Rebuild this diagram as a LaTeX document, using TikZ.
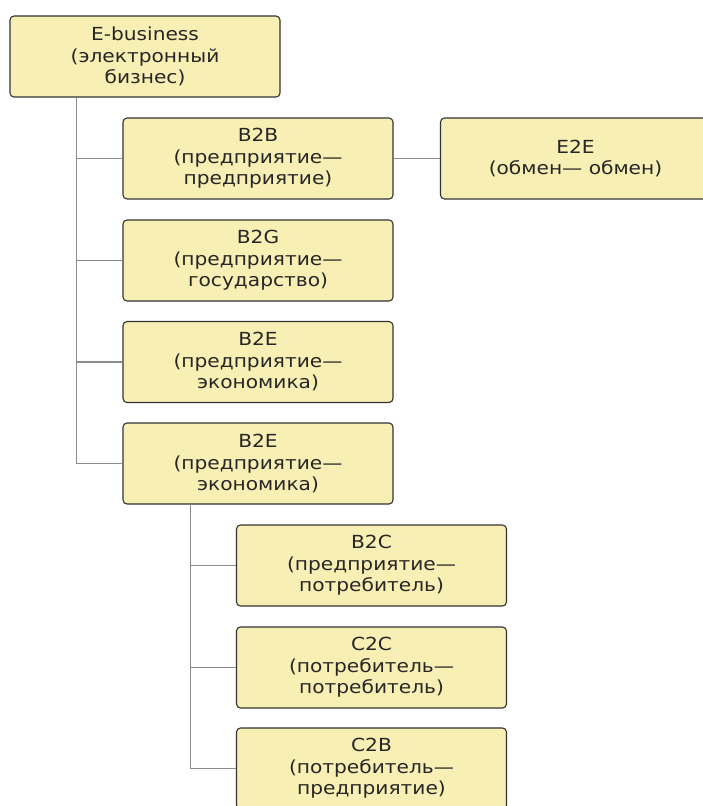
\documentclass[tikz,border=0pt]{standalone}
\usepackage{fontspec}
\setmainfont{DejaVu Sans}[FakeStretch=1.12]
\definecolor{boxfill}{RGB}{247,239,180}
\begin{document}
\begin{tikzpicture}[x=1pt,y=-1pt,
	box/.style={draw=black!80,line width=1.1pt,rounded corners=4pt,fill=boxfill,minimum width=270pt,minimum height=81pt,align=center,inner sep=0pt,font=\fontsize{18}{21.5}\selectfont,text=black!85},
	conn/.style={draw=black!45,line width=1.2pt}]
				\useasboundingbox (0,0) rectangle (703,806);
				\clip (0,0) rectangle (703,806);
				
				\node[box] (root) at (145,56.5) {E-business\\(электронный\\бизнес)};
				\node[box] (b2b) at (258,158.5) {B2B\\(предприятие—\\предприятие)};
				\node[box] (e2e) at (575.5,158.5) {E2E\\(обмен— обмен)};
				\node[box] (b2g) at (258,260.5) {B2G\\(предприятие—\\государство)};
				\node[box] (b2e) at (258,362) {B2E\\(предприятие—\\экономика)};
				\node[box] (b2ee) at (258,463.5) {B2E\\(предприятие—\\экономика)};
				\node[box] (b2c) at (371.5,565.5) {B2C\\(предприятие—\\потребитель)};
				\node[box] (c2c) at (371.5,667.5) {C2C\\(потребитель—\\потребитель)};
				\node[box] (c2b) at (371.5,768.5) {C2B\\(потребитель—\\предприятие)};
				
				\coordinate (trunk) at ([xshift=67pt]root.south west);
				\coordinate (subtrunk) at ([xshift=68pt]b2ee.south west);
				\foreach \n in {b2b,b2g,b2e,b2ee}
					\draw[conn] (trunk) |- (\n.west);
				\foreach \n in {b2c,c2c,c2b}
					\draw[conn] (subtrunk) |- (\n.west);
				\draw[conn] (b2b) -- (e2e);
			\end{tikzpicture}
\end{document}
